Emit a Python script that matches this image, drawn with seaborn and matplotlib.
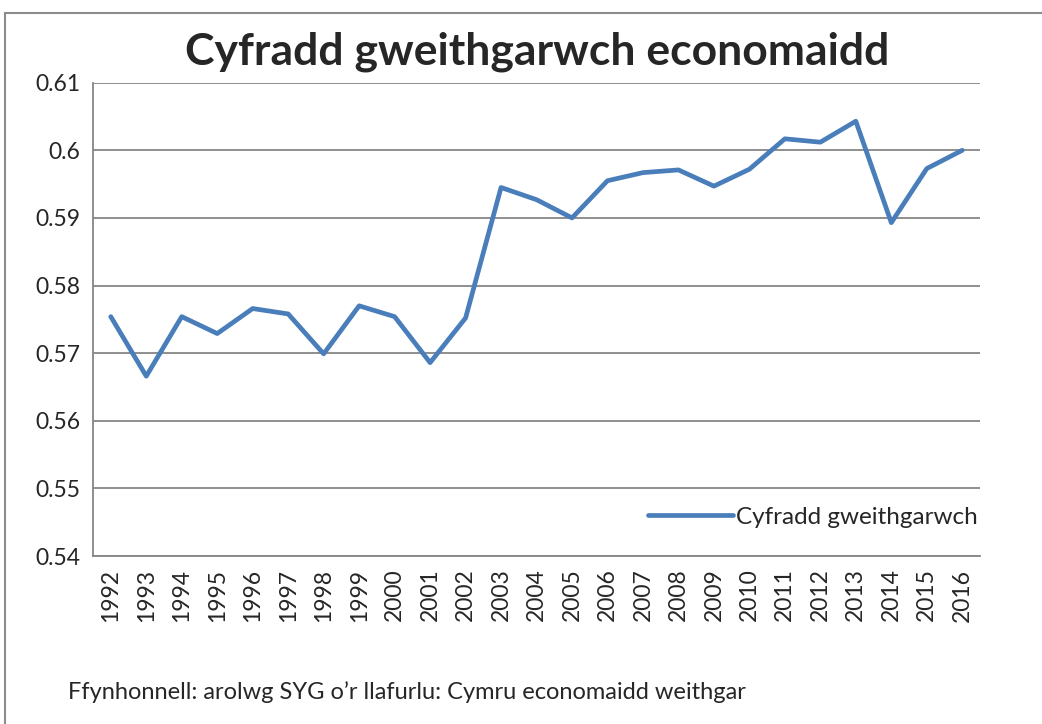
import numpy as np
import pandas as pd
import matplotlib
matplotlib.use("Agg")
import matplotlib.pyplot as plt
import matplotlib.patches as mpatches
import seaborn as sns

# Data
YEARS = list(range(1992, 2017))
RATE = [0.5754, 0.5666, 0.5754, 0.5729, 0.5766, 0.5758, 0.5699, 0.5770, 0.5754,
        0.5686, 0.5752, 0.5945, 0.5927, 0.5900, 0.5955, 0.5967, 0.5971, 0.5947,
        0.5972, 0.6017, 0.6012, 0.6043, 0.5893, 0.5973, 0.6000]
SERIES = "Cyfradd gweithgarwch"
TITLE = "Cyfradd gweithgarwch economaidd"
SOURCE = "Ffynhonnell: arolwg SYG o\u2019r llafurlu: Cymru economaidd weithgar"
LINE_COLOR = "#4a7ebb"
GRID_COLOR = "#868686"

sns.set_style("white")
plt.rcParams["font.family"] = ["Lato", "DejaVu Sans"]

df = pd.DataFrame({"year": YEARS, "rate": RATE, "series": SERIES})

fig = plt.figure(figsize=(10.42, 7.24), dpi=100)
ax = fig.add_axes([0.0893, 0.232, 0.8512, 0.6538])

sns.lineplot(data=df, x="year", y="rate", hue="series", palette=[LINE_COLOR],
             linewidth=3.4, ax=ax)

ax.set_xlim(YEARS[0] - 0.5, YEARS[-1] + 0.5)
ax.set_ylim(0.54, 0.61)
ax.set_yticks(np.arange(0.54, 0.6101, 0.01))
ax.set_yticklabels(["0.54", "0.55", "0.56", "0.57", "0.58", "0.59", "0.6", "0.61"])
ax.set_xticks(YEARS)
ax.set_xticklabels([str(y) for y in YEARS], rotation=90)
ax.set_xticks(np.arange(YEARS[0] - 0.5, YEARS[-1] + 0.51, 1), minor=True)
ax.tick_params(axis="x", which="major", length=0, pad=9, labelsize=16.5)
ax.tick_params(axis="x", which="minor", length=6, width=1.2, color=GRID_COLOR, direction="out")
ax.tick_params(axis="y", which="major", length=6, width=1.2, color=GRID_COLOR,
               direction="out", pad=3, labelsize=16.5)
ax.grid(True, axis="y", color=GRID_COLOR, linewidth=1.3)
ax.set_axisbelow(True)
for side in ["top", "right"]:
    ax.spines[side].set_visible(False)
for side in ["left", "bottom"]:
    ax.spines[side].set_color(GRID_COLOR)
    ax.spines[side].set_linewidth(1.3)
ax.set_xlabel("")
ax.set_ylabel("")

ax.legend(loc="center right", bbox_to_anchor=(1.008, 0.082), frameon=False,
          fontsize=17.5, handlelength=3.5, handletextpad=0.1, borderaxespad=0)

fig.text(0.516, 0.928, TITLE, ha="center", va="center", fontsize=32, fontweight="bold")
fig.text(0.065, 0.044, SOURCE, ha="left", va="center", fontsize=17)

# outer chart border
fig.patches.append(mpatches.Rectangle((0.005, -0.01), 1.02, 0.992, transform=fig.transFigure,
                                      fill=False, edgecolor="#8c8c8c", linewidth=1.5))

plt.savefig("out.png", dpi=100)
plt.close()
